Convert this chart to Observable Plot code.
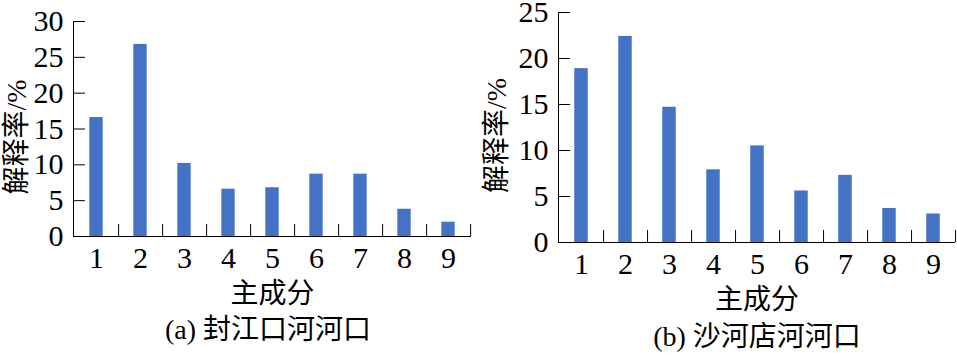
<!DOCTYPE html>
<html>
<head>
<meta charset="utf-8">
<script src="https://cdn.jsdelivr.net/npm/d3@7"></script>
<script src="https://cdn.jsdelivr.net/npm/@observablehq/plot@0.6"></script>
<style>
  html, body { margin: 0; padding: 0; background: #fff; }
  #root { position: relative; width: 957px; height: 356px; overflow: hidden;
          font-family: 'Liberation Serif', 'Noto Sans CJK SC', serif; color: #000; }
  .panel { position: absolute; top: 0; }
  .cap { position: absolute; width: 400px; text-align: center; font-size: 28px; line-height: 40px; white-space: nowrap; }
</style>
</head>
<body>
<div id="root">
  <div class="panel" id="pa" style="left:0px"></div>
  <div class="panel" id="pb" style="left:480px"></div>
  <div class="cap" style="left:68px; top:310px">(a) 封江口河河口</div>
  <div class="cap" style="left:557px; top:317px">(b) 沙河店河河口</div>
</div>
<script>
const components = [1, 2, 3, 4, 5, 6, 7, 8, 9];
const valuesA = [16.6, 26.8, 10.2, 6.6, 6.8, 8.7, 8.7, 3.8, 2.0];
const valuesB = [18.9, 22.4, 14.7, 7.9, 10.5, 5.6, 7.3, 3.7, 3.1];
const yTicksA = [0, 5, 10, 15, 20, 25, 30];
const yTicksB = [0, 5, 10, 15, 20, 25];
const xLabel = "主成分";
const yLabel = "解释率/%";
const barColor = "#4472C4";
const fontFamily = "'Liberation Serif', 'Noto Sans CJK SC', serif";

function panel({values, yTicks, width, height, ml, mr, mt, mb}) {
  const data = components.map((c, i) => ({c, v: values[i]}));
  const bw = (width - ml - mr) / components.length;
  const inset = (bw - 13.6) / 2;
  const frameH = height - mt - mb;
  return Plot.plot({
    width, height,
    marginLeft: ml, marginRight: mr, marginTop: mt, marginBottom: mb,
    x: {domain: components, padding: 0},
    y: {domain: [yTicks[0], yTicks[yTicks.length - 1]]},
    style: {fontFamily, color: "#000", background: "transparent", overflow: "visible"},
    marks: [
      Plot.barY(data, {x: "c", y: "v", fill: barColor, insetLeft: inset, insetRight: inset}),
      Plot.ruleY([0], {stroke: "#000", strokeWidth: 1}),
      Plot.frame({anchor: "left", stroke: "#000", strokeWidth: 1}),
      Plot.ruleX(components, {x: d => d, dx: bw / 2, insetTop: frameH - 12, stroke: "#000", strokeWidth: 1}),
      Plot.axisY({ticks: yTicks, tickSize: -12, tickPadding: 22, fontSize: 30, label: null, stroke: "#000", strokeWidth: 1}),
      Plot.axisX({tickSize: 0, tickPadding: 10, fontSize: 30, label: null}),
      Plot.text([xLabel], {text: d => d, frameAnchor: "bottom", dy: 58, fontSize: 28, lineAnchor: "middle"}),
      Plot.text([yLabel], {text: d => d, frameAnchor: "left", textAnchor: "middle", rotate: -90, dx: -(ml - 17), dy: 8, fontSize: 28})
    ]
  });
}

document.getElementById("pa").append(panel({values: valuesA, yTicks: yTicksA, width: 480, height: 310, ml: 73, mr: 9, mt: 21, mb: 74}));
document.getElementById("pb").append(panel({values: valuesB, yTicks: yTicksB, width: 477, height: 316, ml: 78, mr: 2, mt: 12, mb: 74}));
</script>
</body>
</html>
